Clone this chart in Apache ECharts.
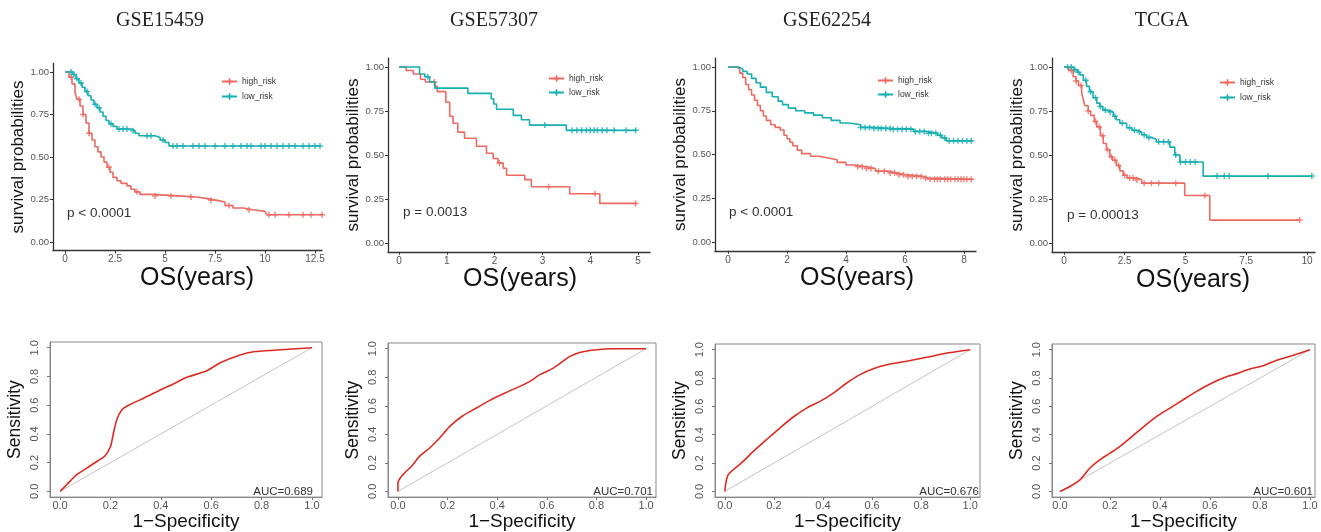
<!DOCTYPE html>
<html><head><meta charset="utf-8">
<script src="https://cdn.jsdelivr.net/npm/echarts@6/dist/echarts.min.js"></script>
<style>html,body{margin:0;padding:0;background:#fff}#c{width:1321px;height:532px}</style>
</head><body><div id="c"></div><script>
// ---------------- DATA ----------------
const datasetNames = ['GSE15459', 'GSE57307', 'GSE62254', 'TCGA'];
const groupNames = ['high_risk', 'low_risk'];
const pValues = ['p < 0.0001', 'p = 0.0013', 'p < 0.0001', 'p = 0.00013'];
const aucLabels = ['AUC=0.689', 'AUC=0.701', 'AUC=0.676', 'AUC=0.601'];

// Kaplan-Meier: step times and survival after each step
const km1HighT = [0,0.2,0.35,0.5,0.6,0.75,0.9,1.05,1.2,1.35,1.5,1.65,1.8,1.95,2.1,2.25,2.4,2.6,2.8,3.1,3.3,3.5,3.75,4.3,5.9,6.6,7.1,7.6,8.0,8.4,8.9,9.4,10.0,10.1,12.9];
const km1HighS = [1,0.97,0.93,0.88,0.84,0.80,0.75,0.70,0.64,0.60,0.56,0.53,0.50,0.47,0.44,0.41,0.38,0.36,0.345,0.33,0.31,0.295,0.28,0.27,0.265,0.255,0.245,0.235,0.215,0.20,0.19,0.18,0.17,0.16,0.16];
const km1LowT = [0,0.4,0.55,0.7,0.85,1.0,1.15,1.3,1.45,1.6,1.75,1.9,2.05,2.2,2.4,2.6,3.3,3.5,3.7,4.5,4.75,5.0,5.2,12.8];
const km1LowS = [1,0.985,0.96,0.935,0.91,0.885,0.86,0.835,0.81,0.79,0.765,0.74,0.715,0.695,0.68,0.665,0.655,0.64,0.625,0.615,0.60,0.585,0.565,0.565];
const km1HighC = [0.3,0.7,0.9,1.2,2.2,3.6,4.5,5.3,6.3,7.3,8.2,9.2,10.2,10.5,11.2,11.9,12.3,12.85];
const km1LowC = [0.3,0.45,0.6,0.8,1.1,1.5,1.7,2.3,2.7,2.9,3.1,3.4,4.1,4.3,4.9,5.4,5.6,5.9,6.4,6.7,7.0,7.5,8.0,8.4,8.8,9.1,9.3,9.8,10.0,10.3,10.6,10.9,11.2,11.5,11.9,12.2,12.5,12.75];

const km2HighT = [0,0.15,0.3,0.45,0.55,0.75,0.8,0.98,1.06,1.13,1.23,1.37,1.62,1.83,1.97,2.07,2.18,2.25,2.63,2.77,3.57,4.2,4.97];
const km2HighS = [1,0.98,0.96,0.93,0.915,0.89,0.86,0.80,0.72,0.68,0.63,0.595,0.55,0.51,0.48,0.455,0.425,0.385,0.36,0.32,0.28,0.225,0.225];
const km2LowT = [0,0.43,0.54,0.64,0.75,1.44,1.93,1.98,2.04,2.39,2.56,2.73,3.5,4.97];
const km2LowS = [1,0.96,0.945,0.915,0.88,0.85,0.82,0.79,0.76,0.725,0.70,0.67,0.64,0.64];
const km2HighC = [0.74,2.1,3.13,4.1,4.95];
const km2LowC = [0.6,3.05,3.62,3.72,3.82,3.92,4.0,4.08,4.15,4.25,4.35,4.5,4.75,4.95];

const km3HighT = [0,0.3,0.4,0.5,0.6,0.7,0.8,0.9,1.0,1.1,1.2,1.3,1.45,1.6,1.77,1.9,2.0,2.1,2.2,2.35,2.5,2.8,3.1,3.4,3.7,4.0,4.3,4.7,5.0,5.4,5.7,6.0,6.6,6.8,8.3];
const km3HighS = [1,0.99,0.965,0.94,0.90,0.87,0.84,0.81,0.78,0.75,0.72,0.695,0.67,0.655,0.64,0.61,0.59,0.57,0.55,0.525,0.505,0.49,0.48,0.47,0.455,0.44,0.43,0.42,0.405,0.395,0.385,0.375,0.365,0.358,0.358];
const km3LowT = [0,0.35,0.5,0.65,0.8,0.95,1.1,1.3,1.5,1.7,1.85,2.05,2.3,2.6,2.9,3.2,3.5,3.8,4.1,4.5,4.9,5.6,6.3,6.7,7.1,7.25,7.4,8.3];
const km3LowS = [1,0.99,0.975,0.96,0.935,0.91,0.885,0.855,0.83,0.805,0.785,0.765,0.75,0.738,0.725,0.71,0.695,0.68,0.67,0.655,0.648,0.645,0.632,0.622,0.61,0.595,0.578,0.578];
const km3HighC = [4.4,4.55,4.7,4.85,5.1,5.3,5.5,5.65,5.8,5.95,6.1,6.25,6.4,6.55,6.7,6.85,7.0,7.1,7.2,7.35,7.45,7.55,7.7,7.8,7.9,8.0,8.1,8.25];
const km3LowC = [4.5,4.65,4.8,4.95,5.1,5.2,5.35,5.5,5.6,5.75,5.9,6.05,6.2,6.35,6.5,6.65,6.8,6.9,7.05,7.2,7.35,7.5,7.65,7.8,7.95,8.1,8.25];

const km4HighT = [0,0.2,0.38,0.5,0.6,0.73,0.8,0.86,1.0,1.1,1.25,1.35,1.5,1.62,1.75,1.89,2.0,2.16,2.3,2.44,2.6,3.0,3.2,4.97,6.0,9.7];
const km4HighS = [1,0.98,0.945,0.92,0.895,0.85,0.815,0.78,0.75,0.725,0.69,0.66,0.61,0.565,0.53,0.49,0.47,0.44,0.41,0.385,0.37,0.36,0.34,0.27,0.13,0.13];
const km4LowT = [0,0.4,0.55,0.66,0.8,0.93,1.05,1.2,1.35,1.48,1.6,1.75,2.03,2.15,2.3,2.58,2.8,2.99,3.2,3.4,3.6,3.8,4.36,4.56,4.77,5.73,10.2];
const km4LowS = [1,0.985,0.97,0.955,0.925,0.89,0.86,0.825,0.795,0.775,0.755,0.745,0.72,0.70,0.68,0.655,0.64,0.63,0.615,0.60,0.59,0.575,0.545,0.50,0.46,0.38,0.38];
const km4HighC = [0.3,0.5,0.7,1.0,1.3,1.45,1.6,1.8,1.95,2.1,2.25,2.5,2.7,2.85,3.0,3.3,3.6,3.9,4.6,5.8,9.7];
const km4LowC = [0.15,0.3,0.45,0.6,0.9,1.1,1.3,1.5,1.7,1.9,2.1,2.4,2.7,2.9,3.1,3.3,3.5,3.9,4.1,4.3,4.6,4.8,5.0,5.2,5.4,6.3,6.6,6.8,8.4,10.2];

const kmXTicks = [[0,2.5,5,7.5,10,12.5],[0,1,2,3,4,5],[0,2,4,6,8],[0,2.5,5,7.5,10]];
const kmYTicks = [0,0.25,0.5,0.75,1];

// ROC curves: false positive rate (1-specificity) and sensitivity
const roc1X = [0,0.026,0.066,0.106,0.146,0.179,0.2,0.212,0.225,0.245,0.272,0.318,0.384,0.45,0.503,0.583,0.636,0.715,0.768,0.861,1.0];
const roc1Y = [0,0.046,0.116,0.162,0.208,0.248,0.312,0.405,0.498,0.567,0.60,0.637,0.694,0.748,0.794,0.84,0.896,0.95,0.972,0.984,1.0];
const roc2X = [0,0,0.02,0.054,0.087,0.128,0.168,0.209,0.262,0.316,0.37,0.437,0.491,0.532,0.572,0.626,0.693,0.733,0.8,0.868,1.0];
const roc2Y = [0,0.058,0.117,0.175,0.245,0.304,0.374,0.456,0.53,0.584,0.638,0.694,0.736,0.771,0.818,0.864,0.946,0.974,0.993,1.0,1.0];
const roc3X = [0,0.004,0.014,0.034,0.075,0.116,0.17,0.224,0.279,0.333,0.388,0.442,0.497,0.551,0.605,0.66,0.741,0.823,0.905,1.0];
const roc3Y = [0,0.059,0.118,0.153,0.212,0.282,0.365,0.447,0.525,0.588,0.635,0.694,0.765,0.824,0.866,0.894,0.918,0.946,0.976,1.0];
const roc4X = [0,0.04,0.08,0.12,0.16,0.2,0.24,0.28,0.333,0.387,0.44,0.493,0.547,0.6,0.653,0.707,0.76,0.813,0.867,0.92,1.0];
const roc4Y = [0,0.035,0.082,0.165,0.224,0.27,0.318,0.376,0.454,0.529,0.588,0.647,0.706,0.758,0.8,0.831,0.864,0.887,0.925,0.953,1.0];
const rocTicks = [0,0.2,0.4,0.6,0.8,1.0];
const diagX = [0,1];
const diagY = [0,1];

// ---------------- LAYOUT / STYLE ----------------
const RED = '#EC6A61', TEAL = '#17AFB2', ROCRED = '#DD2A22';
const PLUS = 'path://M3,0H5V3H8V5H5V8H3V5H0V3H3Z';
const SANS = 'Liberation Sans, Arial, sans-serif';

const kmSets = [
  {hT:km1HighT,hS:km1HighS,lT:km1LowT,lS:km1LowS,hC:km1HighC,lC:km1LowC},
  {hT:km2HighT,hS:km2HighS,lT:km2LowT,lS:km2LowS,hC:km2HighC,lC:km2LowC},
  {hT:km3HighT,hS:km3HighS,lT:km3LowT,lS:km3LowS,hC:km3HighC,lC:km3LowC},
  {hT:km4HighT,hS:km4HighS,lT:km4LowT,lS:km4LowS,hC:km4HighC,lC:km4LowC}
];
const rocSets = [[roc1X,roc1Y],[roc2X,roc2Y],[roc3X,roc3Y],[roc4X,roc4Y]];

const kmLayout = [
  {grid:{left:53,top:63.5,width:269,height:187}, xMin:-0.6, xMax:12.85, leg:{left:221,top:77,gap:6}, p:[67,214], shift:19, gapX:13.5, gapY:26.5, titleX:160},
  {grid:{left:388,top:58.2,width:262,height:193.6}, xMin:-0.23, xMax:5.25, leg:{left:548,top:74,gap:5}, p:[403,213], shift:2, gapX:13.5, gapY:24.5, titleX:494},
  {grid:{left:715,top:58.25,width:261,height:192.5}, xMin:-0.44, xMax:8.41, leg:{left:877,top:76,gap:5}, p:[729,213], shift:23, gapX:13.5, gapY:25.5, titleX:827},
  {grid:{left:1052,top:58.2,width:263,height:193.6}, xMin:-0.49, xMax:10.33, leg:{left:1219,top:78,gap:6}, p:[1067,216], shift:19, gapX:15.5, gapY:25.5, titleX:1162}
];
const rocLayout = [
  {grid:{left:50,top:342,width:272,height:156}, xMin:-0.04, xMax:1.04, auc:[313,492]},
  {grid:{left:388,top:343,width:268,height:155}, xMin:-0.04, xMax:1.04, auc:[653,492]},
  {grid:{left:715,top:344,width:265,height:154}, xMin:-0.04, xMax:1.04, auc:[979,492]},
  {grid:{left:1052,top:344,width:263,height:154}, xMin:-0.032, xMax:1.02, auc:[1313,492]}
];

function stepAt(T, S, t) {
  let v = S[0];
  for (let i = 0; i < T.length; i++) { if (T[i] <= t) v = S[i]; else break; }
  return v;
}
function zip(a, b) { return a.map((v, i) => [v, b[i]]); }
function fmtNum(v) { return String(v); }

const grid = [], xAxis = [], yAxis = [], series = [], legend = [], graphic = [];

kmLayout.forEach((L, i) => {
  const d = kmSets[i];
  const gi = grid.length;
  grid.push(Object.assign({containLabel:false}, L.grid));
  xAxis.push({
    type:'value', gridIndex:gi, min:L.xMin, max:L.xMax,
    name:'OS(years)', nameLocation:'middle', nameGap:L.gapX,
    nameTextStyle:{fontFamily:SANS, fontSize:25, color:'#111', padding:[0,0,0,L.shift]},
    axisLine:{show:true, onZero:false, lineStyle:{color:'#333', width:1.3}},
    axisTick:{show:true, length:3, customValues:kmXTicks[i], lineStyle:{color:'#333'}},
    axisLabel:{customValues:kmXTicks[i], formatter:fmtNum, fontFamily:SANS, fontSize:10, color:'#555', margin:4},
    splitLine:{show:false}
  });
  yAxis.push({
    type:'value', gridIndex:gi, min:-0.05, max:1.05,
    name:'survival probabilities', nameLocation:'middle', nameGap:L.gapY,
    nameTextStyle:{fontFamily:SANS, fontSize:17, color:'#111'},
    axisLine:{show:true, onZero:false, lineStyle:{color:'#333', width:1.3}},
    axisTick:{show:true, length:3, customValues:kmYTicks, lineStyle:{color:'#333'}},
    axisLabel:{customValues:kmYTicks, formatter:v => v.toFixed(2), fontFamily:SANS, fontSize:9.5, color:'#555', margin:4},
    splitLine:{show:false}
  });
  const groups = [[d.hT,d.hS,d.hC,RED],[d.lT,d.lS,d.lC,TEAL]];
  groups.forEach((g, k) => {
    series.push({
      type:'line', name:groupNames[k], xAxisIndex:gi, yAxisIndex:gi, step:'end',
      data:zip(g[0], g[1]), showSymbol:false, symbol:PLUS, symbolSize:7,
      lineStyle:{color:g[3], width:1.6}, itemStyle:{color:g[3]}, silent:true
    });
    series.push({
      type:'scatter', name:groupNames[k] + ' censored', xAxisIndex:gi, yAxisIndex:gi,
      data:g[2].map(t => [t, stepAt(g[0], g[1], t)]), symbol:PLUS, symbolSize:6,
      itemStyle:{color:g[3]}, silent:true
    });
  });
  legend.push({
    data:groupNames, orient:'vertical', left:L.leg.left, top:L.leg.top, padding:0,
    itemGap:L.leg.gap, itemWidth:15, itemHeight:8, selectedMode:false,
    textStyle:{fontFamily:SANS, fontSize:8.5, color:'#333'}
  });
  graphic.push({type:'text', left:L.p[0], top:L.p[1]-8,
    style:{text:pValues[i], fontFamily:SANS, fontSize:13.5, fill:'#333'}});
  graphic.push({type:'text', x:L.titleX, y:21,
    style:{text:datasetNames[i], fontFamily:'Liberation Serif, Times New Roman, serif', fontSize:20, fill:'#222', align:'center', verticalAlign:'middle'}});
});

rocLayout.forEach((L, i) => {
  const gi = grid.length;
  grid.push(Object.assign({show:true, borderColor:'#888', borderWidth:1, backgroundColor:'transparent'}, L.grid));
  xAxis.push({
    type:'value', gridIndex:gi, min:L.xMin, max:L.xMax,
    name:'1\u2212Specificity', nameLocation:'middle', nameGap:14,
    nameTextStyle:{fontFamily:SANS, fontSize:19, color:'#111'},
    axisLine:{show:true, onZero:false, lineStyle:{color:'#888'}},
    axisTick:{show:true, length:3, customValues:rocTicks, lineStyle:{color:'#777'}},
    axisLabel:{customValues:rocTicks, formatter:v => v.toFixed(1), fontFamily:SANS, fontSize:11, color:'#555', margin:3},
    splitLine:{show:false}
  });
  yAxis.push({
    type:'value', gridIndex:gi, min:-0.04, max:1.04,
    name:'Sensitivity', nameLocation:'middle', nameGap:26,
    nameTextStyle:{fontFamily:SANS, fontSize:17.5, color:'#111'},
    axisLine:{show:true, onZero:false, lineStyle:{color:'#888'}},
    axisTick:{show:true, length:3, customValues:rocTicks, lineStyle:{color:'#777'}},
    axisLabel:{customValues:rocTicks, formatter:v => v.toFixed(1), rotate:90, fontFamily:SANS, fontSize:11, color:'#555', margin:10},
    splitLine:{show:false}
  });
  series.push({
    type:'line', name:'reference', xAxisIndex:gi, yAxisIndex:gi, data:zip(diagX, diagY),
    showSymbol:false, lineStyle:{color:'#C4C4C4', width:1}, silent:true
  });
  series.push({
    type:'line', name:'ROC ' + datasetNames[i], xAxisIndex:gi, yAxisIndex:gi, data:zip(rocSets[i][0], rocSets[i][1]),
    showSymbol:false, smooth:0.3, lineStyle:{color:ROCRED, width:1.6}, silent:true
  });
  graphic.push({type:'text', x:L.auc[0], y:L.auc[1],
    style:{text:aucLabels[i], fontFamily:SANS, fontSize:11.5, fill:'#333', align:'right', verticalAlign:'middle'}});
});

const chart = echarts.init(document.getElementById('c'), null, {renderer:'canvas'});
chart.setOption({
  animation:false, backgroundColor:'#fff',
  grid, xAxis, yAxis, series, legend, graphic
});
</script></body></html>
